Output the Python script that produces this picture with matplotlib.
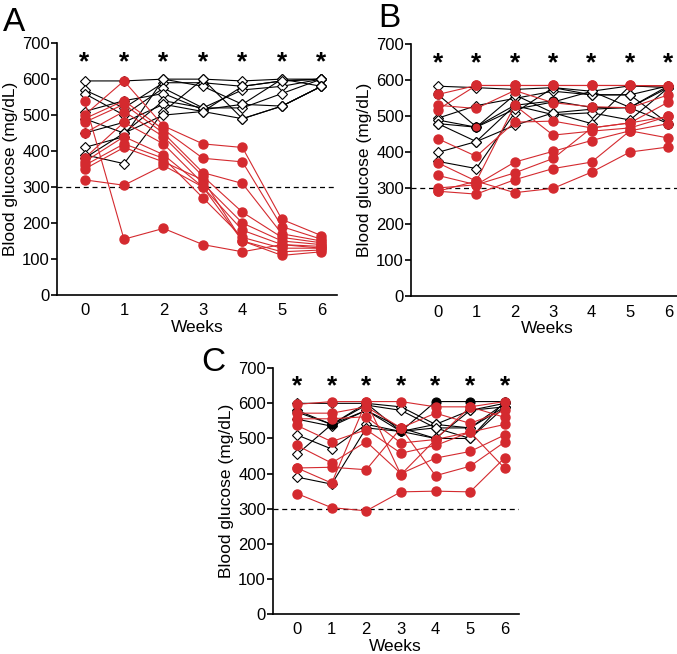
import numpy as np
import matplotlib
matplotlib.use('Agg')
import matplotlib.pyplot as plt

plt.rcParams['font.family'] = ['Liberation Sans', 'DejaVu Sans']

weeks = [0, 1, 2, 3, 4, 5, 6]
RED = '#d42a2f'

# panel A
a_black = [
    [595, 595, 600, 600, 595, 600, 600],
    [570, 520, 590, 590, 580, 595, 600],
    [560, 500, 575, 520, 570, 580, 600],
    [510, 540, 560, 515, 530, 600, 580],
    [490, 450, 540, 520, 520, 560, 600],
    [450, 480, 530, 510, 580, 595, 600],
    [410, 440, 600, 580, 530, 525, 580],
    [390, 365, 510, 600, 490, 525, 580],
    [380, 450, 500, 510, 490, 525, 580],
]
a_red = [
    [540, 155, 185, 140, 120, 140, 130],
    [500, 595, 470, 420, 410, 210, 165],
    [490, 540, 460, 380, 370, 190, 155],
    [480, 530, 450, 340, 310, 170, 150],
    [450, 510, 440, 330, 230, 160, 145],
    [380, 480, 420, 310, 200, 150, 140],
    [370, 440, 390, 300, 180, 140, 135],
    [360, 420, 380, 270, 160, 130, 130],
    [350, 410, 370, 320, 150, 120, 125],
    [320, 305, 360, 300, 150, 110, 120],
]

# panel B
b_black = [
    [584, 580, 575, 580, 570, 585, 585],
    [495, 530, 550, 570, 560, 560, 585],
    [490, 470, 560, 510, 520, 525, 580],
    [480, 430, 530, 505, 510, 490, 580],
    [400, 430, 475, 510, 480, 585, 580],
    [375, 355, 510, 580, 560, 560, 480],
    [480, 470, 520, 540, 570, 525, 585],
]
b_red = [
    [561, 586, 586, 586, 586, 586, 585],
    [531, 522, 572, 538, 527, 524, 560],
    [519, 586, 586, 586, 586, 586, 585],
    [438, 389, 484, 487, 468, 482, 540],
    [371, 320, 531, 448, 459, 468, 500],
    [336, 310, 373, 403, 433, 460, 480],
    [301, 310, 343, 383, 468, 482, 500],
    [292, 284, 324, 355, 373, 460, 440],
    [292, 320, 288, 300, 345, 401, 415],
]
b_mixed = [561, 471, 531, 543, 525, 524, 480]

# panel C
c_black = [
    [600, 600, 600, 590, 540, 580, 600],
    [580, 540, 595, 580, 530, 530, 590],
    [555, 535, 580, 530, 500, 500, 605],
    [510, 470, 540, 520, 540, 530, 600],
    [455, 540, 580, 520, 500, 580, 590],
    [390, 370, 530, 520, 530, 500, 590],
]
c_black_filled = [575, 540, 600, 520, 605, 605, 605]
c_red = [
    [597, 605, 605, 605, 590, 590, 605],
    [572, 572, 590, 530, 572, 543, 580],
    [556, 556, 562, 487, 497, 590, 560],
    [537, 491, 525, 458, 480, 518, 540],
    [480, 430, 491, 400, 444, 463, 510],
    [416, 418, 411, 530, 394, 421, 490],
    [343, 303, 294, 348, 350, 348, 445],
    [416, 373, 605, 397, 497, 518, 415],
]


def draw_panel(ax, black, red, extra=None):
    for s in black:
        ax.plot(weeks, s, color='black', lw=0.8, marker='D', ms=5.5,
                mfc='white', mec='black', mew=0.8, zorder=2)
    if extra is not None:
        vals, face = extra
        ax.plot(weeks, vals, color='black', lw=0.8, marker='o', ms=6.5,
                mfc=face, mec='black', mew=0.8, zorder=3)
    for s in red:
        ax.plot(weeks, s, color=RED, lw=0.8, marker='o', ms=6.5,
                mfc=RED, mec=RED, zorder=3)
    ax.axhline(300, color='black', ls='--', lw=0.9, dashes=(4, 3), zorder=1)
    for w in weeks:
        ax.text(w, 648, '*', ha='center', va='center', fontsize=19,
                fontweight='bold')
    ax.set_xlim(-0.7, 6.4)
    ax.set_ylim(0, 700)
    ax.set_yticks(range(0, 701, 100))
    ax.set_xticks(weeks)
    ax.spines['top'].set_visible(False)
    ax.spines['right'].set_visible(False)
    ax.spines['left'].set_linewidth(1.2)
    ax.spines['bottom'].set_linewidth(1.2)
    ax.tick_params(axis='y', direction='out', length=4, width=1.2,
                   labelsize=12, pad=1)
    ax.tick_params(axis='x', length=0, labelsize=12, pad=6)
    ax.set_xlabel('Weeks', fontsize=12.5, labelpad=1)
    ax.set_ylabel('Blood glucose (mg/dL)', fontsize=12.5, labelpad=3)


fig = plt.figure(figsize=(6.77, 6.54), dpi=100)
axA = fig.add_axes([0.084, 0.549, 0.414, 0.385])
axB = fig.add_axes([0.607, 0.547, 0.403, 0.385])
axC = fig.add_axes([0.403, 0.061, 0.363, 0.376])

draw_panel(axA, a_black, a_red)
draw_panel(axB, b_black, b_red, extra=(b_mixed, RED))
draw_panel(axC, c_black, c_red, extra=(c_black_filled, 'black'))

fig.text(0.005, 0.99, 'A', fontsize=24, va='top', ha='left')
fig.text(0.558, 0.995, 'B', fontsize=24, va='top', ha='left')
fig.text(0.298, 0.47, 'C', fontsize=24, va='top', ha='left')

fig.savefig('out.png', dpi=100)
